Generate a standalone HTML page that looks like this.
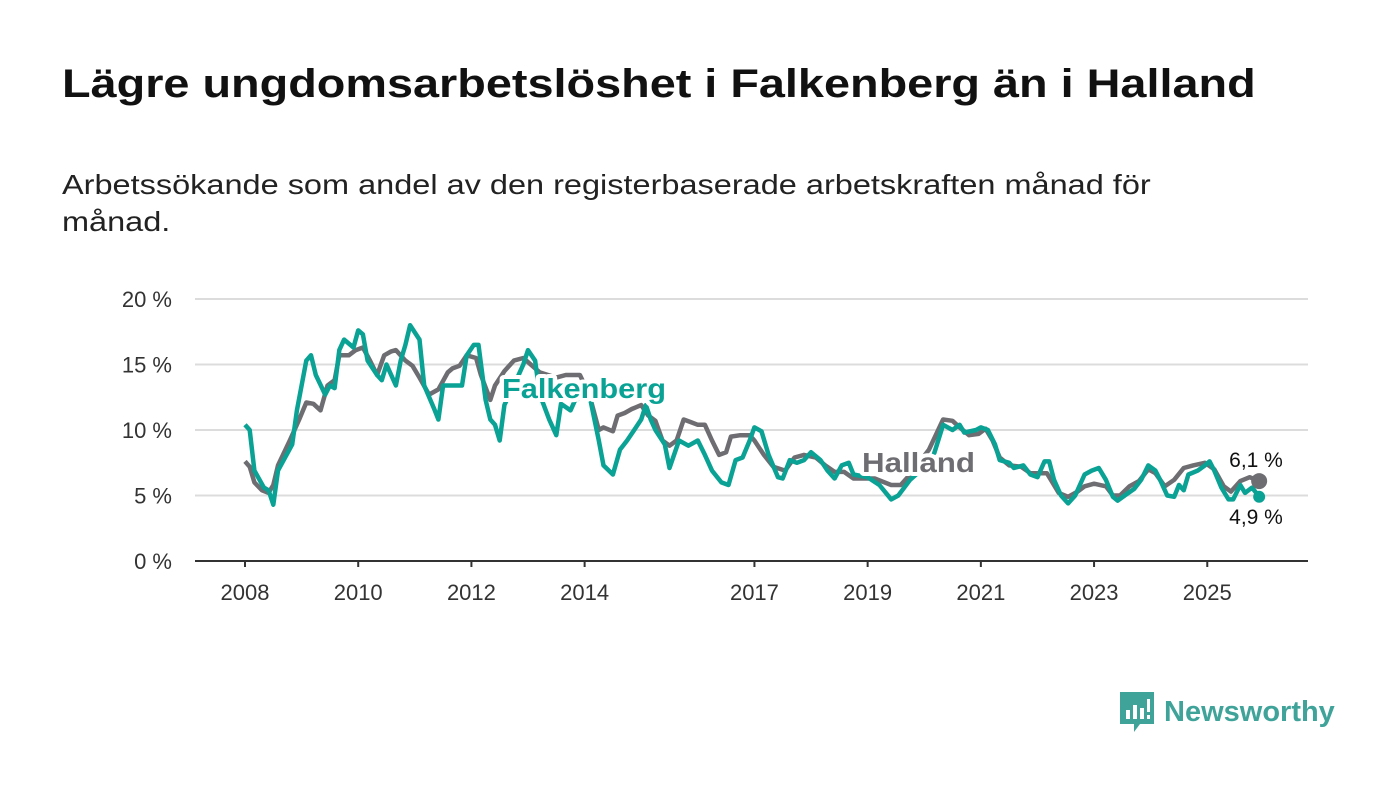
<!DOCTYPE html>
<html><head><meta charset="utf-8"><style>
body{margin:0;background:#fff;width:1400px;height:794px;overflow:hidden;font-family:"Liberation Sans",sans-serif}
.t{position:absolute;left:62px;top:62px;font-size:40px;font-weight:bold;color:#111;transform:scaleX(1.17);transform-origin:0 0;white-space:nowrap}
.s{position:absolute;left:62px;top:166px;font-size:28px;line-height:37px;color:#222;width:1100px;transform:scaleX(1.16);transform-origin:0 0}
svg{position:absolute;left:0;top:0}
</style></head><body>
<div class="t">Lägre ungdomsarbetslöshet i Falkenberg än i Halland</div>
<div class="s">Arbetssökande som andel av den registerbaserade arbetskraften månad för<br>månad.</div>
<svg id="c" width="1400" height="794"></svg>
<script>
const yTicks=[0,5,10,15,20];
const xTickYears=[2008,2010,2012,2014,2017,2019,2021,2023,2025];
const fMonths=[0,1,2,4,5,6,7,10,11,13,14,15,17,18,19,20,21,23,24,25,26,28,29,30,31,32,33,34,35,37,38,40,41,42,45,46,47,48.5,49.5,51,52,53,54,55,58,59,60,61.5,62.5,64.5,66,67,69,70,73,75,76,78,79.5,81,82.5,84,85,86,87,89,90,92,94,96,97.5,99,101,102.5,104,105.5,107,108,109.5,111,113,114,115.5,117,118.5,120,122,123.5,125,126.5,128,129,132,134.5,137,138.5,141,143.5,146,148,150,151.5,152.5,155,156,157.5,159,160,162,163,165,166.5,168,169.5,170.5,171.5,173,174.5,176,178,179.5,181,182.5,184,185,186.5,188.5,190,191.5,193,194,195.5,197,198,199,200,202,203.5,204.5,205.5,207,208.5,209.5,211,212,213.5,215];
const fValues=[10.4,10.0,6.9,5.6,5.4,4.3,6.9,8.9,11.5,15.3,15.7,14.2,12.7,13.4,13.2,16.1,16.9,16.3,17.6,17.3,15.3,14.2,13.8,15.0,14.2,13.4,15.3,16.5,18.0,16.9,13.4,11.7,10.8,13.4,13.4,13.4,15.7,16.5,16.5,12.3,10.8,10.4,9.2,11.9,14.2,15.0,16.1,15.3,12.7,10.8,9.6,12.0,11.5,12.3,12.7,9.2,7.3,6.6,8.5,9.2,10.0,10.8,11.9,10.8,10.0,8.9,7.1,9.2,8.8,9.2,8.1,6.9,6.0,5.8,7.7,7.9,9.2,10.2,9.9,8.1,6.4,6.3,7.7,7.5,7.7,8.3,7.7,6.9,6.3,7.3,7.5,6.6,6.4,5.8,4.7,5.0,6.2,7.0,8.1,10.4,10.0,10.4,9.8,10.0,10.2,10.0,8.9,7.7,7.5,7.1,7.3,6.6,6.4,7.6,7.6,6.2,5.0,4.4,5.0,6.6,6.9,7.1,6.2,4.9,4.6,5.0,5.5,6.2,7.3,6.9,6.2,5.0,4.9,5.8,5.4,6.6,6.9,7.3,7.6,6.9,5.6,4.7,4.7,5.8,5.2,5.6,4.9];
const hMonths=[0,1,2,3.6,5,6,7,9.5,11.5,13,14.5,16,17.5,19,20,22,23.5,25,26.5,28,29.5,31,32,34,35.5,37,39,41,43,44,45.5,47,49,50,52,53,55,57,59,62.5,66,68,71,73,75,76,78,79,80.5,82,84,85.5,87,88.5,90,91.5,93,94.5,96,97.5,99,100.5,102,103,105,107,108,110,112,114.5,116.5,118.5,121,123,125,127,129,133.5,137,139,141,145,148,150,151.5,153.5,155.5,157,158.5,160,162,164.5,166.5,168.5,170,172.5,174.5,176.5,178,180,182.5,184,185.5,187.5,189.5,191.5,193,195,197,199,201,203.5,205.5,207.5,209,211,213,215];
const hValues=[7.6,7.2,6.0,5.4,5.2,5.8,7.3,9.2,10.8,12.1,12.0,11.5,13.4,13.8,15.7,15.7,16.1,16.3,15.3,14.2,15.7,16.0,16.1,15.3,14.9,14.0,12.7,13.1,14.4,14.7,14.9,15.7,15.5,14.2,12.3,13.4,14.5,15.3,15.5,14.4,14.0,14.2,14.2,12.7,10.0,10.2,9.9,11.1,11.3,11.6,11.9,11.1,10.7,9.2,8.8,9.2,10.8,10.6,10.4,10.4,9.2,8.1,8.3,9.5,9.6,9.6,9.2,8.1,7.2,6.9,7.9,8.1,7.9,7.3,6.8,6.8,6.3,6.3,5.8,5.8,6.6,8.5,10.8,10.7,10.2,9.6,9.7,10.1,9.2,7.9,7.3,7.2,6.7,6.7,6.7,5.2,4.9,5.3,5.7,5.9,5.7,5.0,5.0,5.7,6.1,7.0,6.7,5.7,6.2,7.1,7.3,7.5,7.0,5.7,5.3,6.1,6.4,6.1];
const NS='http://www.w3.org/2000/svg';
const svg=document.getElementById('c');
const X=m=>245+m*4.717, Y=v=>561-v*13.1;
function el(t,a,txt){const e=document.createElementNS(NS,t);for(const k in a)e.setAttribute(k,a[k]);if(txt!=null)e.textContent=txt;svg.appendChild(e);return e;}
yTicks.forEach(v=>{
 if(v>0){const g=el('line',{x1:195,x2:1308,y1:Y(v),y2:Y(v),stroke:'#dcdcdc','stroke-width':2});
 
 }
 const t=el('text',{x:172,y:Y(v)+8,'text-anchor':'end','font-size':22,fill:'#333'},v+' %');
 
 
});
const ax=el('line',{x1:195,x2:1308,y1:561,y2:561,stroke:'#333','stroke-width':2});


xTickYears.forEach(yr=>{
 const x=X((yr-2008)*12);
 const tk=el('line',{x1:x,x2:x,y1:561,y2:567,stroke:'#333','stroke-width':2});
 
 
 const t=el('text',{x:x,y:600,'text-anchor':'middle','font-size':22,fill:'#333'},yr);
 
 
});
function path(ms,vs){return ms.map((m,i)=>(i?'L':'M')+X(m).toFixed(1)+','+Y(vs[i]).toFixed(1)).join('');}
const hl=el('path',{d:path(hMonths,hValues),fill:'none',stroke:'#6e6d72','stroke-width':4.5,'stroke-linejoin':'round'});


const fl=el('path',{d:path(fMonths,fValues),fill:'none',stroke:'#0aa294','stroke-width':4.5,'stroke-linejoin':'round'});


const hd=el('circle',{cx:X(hMonths[hMonths.length-1]),cy:Y(hValues[hValues.length-1]),r:8,fill:'#6e6d72'});


const fd=el('circle',{cx:X(fMonths[fMonths.length-1]),cy:Y(fValues[fValues.length-1]),r:6,fill:'#0aa294'});


const hv=el('text',{x:1256,y:467,'text-anchor':'middle','font-size':21,fill:'#111'},hValues[hValues.length-1].toFixed(1).replace('.',',')+' %');


const fv=el('text',{x:1256,y:524,'text-anchor':'middle','font-size':21,fill:'#111'},fValues[fValues.length-1].toFixed(1).replace('.',',')+' %');


const fla=el('text',{x:502,y:398,'font-size':28,'font-weight':'bold',fill:'#0aa294',stroke:'#fff','stroke-width':8,'paint-order':'stroke','stroke-linejoin':'round',textLength:164,lengthAdjust:'spacingAndGlyphs'},'Falkenberg');


const hla=el('text',{x:862,y:472,'font-size':28,'font-weight':'bold',fill:'#6e6d72',stroke:'#fff','stroke-width':8,'paint-order':'stroke','stroke-linejoin':'round',textLength:113,lengthAdjust:'spacingAndGlyphs'},'Halland');


</script>
<div style="position:absolute;left:1118px;top:690px;height:44px;display:flex;align-items:center">
<svg width="38" height="44" style="position:static"><path d="M2 2h34v32h-14l-6 8v-8h-14z" fill="#3fa39a"/><rect x="8" y="20" width="4" height="9" fill="#fff"/><rect x="15" y="15" width="4" height="14" fill="#fff"/><rect x="22" y="18" width="4" height="11" fill="#fff"/><rect x="29" y="9" width="3" height="13" fill="#fff"/><rect x="29" y="25" width="3" height="4" fill="#fff"/></svg>
<span style="font-size:29px;font-weight:bold;color:#3fa39a;margin-left:8px">Newsworthy</span></div>
</body></html>
